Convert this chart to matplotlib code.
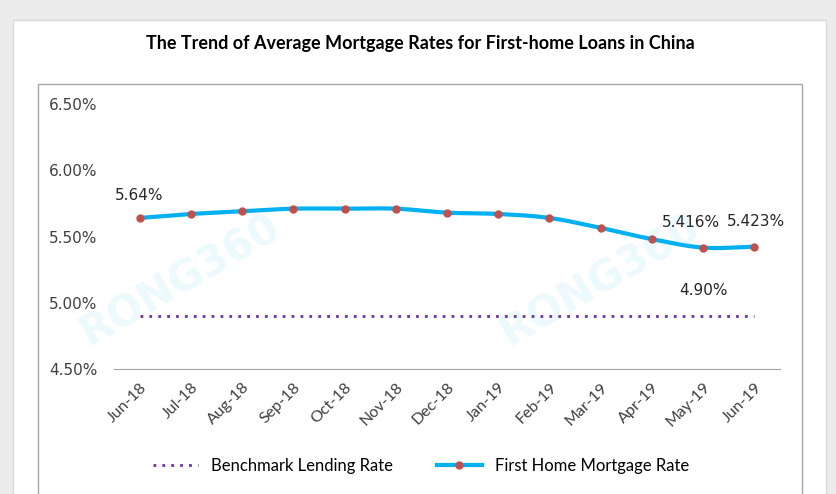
import numpy as np
import matplotlib.pyplot as plt
from matplotlib.patches import Rectangle

months = ["Jun-18", "Jul-18", "Aug-18", "Sep-18", "Oct-18", "Nov-18", "Dec-18",
          "Jan-19", "Feb-19", "Mar-19", "Apr-19", "May-19", "Jun-19"]
first_home = [5.64, 5.67, 5.69, 5.71, 5.71, 5.71, 5.68, 5.67, 5.64, 5.565, 5.48, 5.416, 5.423]
benchmark = [4.90] * 13
yticks = [4.5, 5.0, 5.5, 6.0, 6.5]

narrow = ["Lato", "DejaVu Sans"]

def smooth(x, y, n=20):
    # catmull-rom through the points, like excel's smoothed line
    x = np.asarray(x, float); y = np.asarray(y, float)
    px = np.concatenate([[2 * x[0] - x[1]], x, [2 * x[-1] - x[-2]]])
    py = np.concatenate([[2 * y[0] - y[1]], y, [2 * y[-1] - y[-2]]])
    xs, ys = [], []
    t = np.linspace(0, 1, n)
    for i in range(1, len(px) - 2):
        for p, out in ((px, xs), (py, ys)):
            p0, p1, p2, p3 = p[i - 1], p[i], p[i + 1], p[i + 2]
            out.extend(0.5 * (2 * p1 + (-p0 + p2) * t + (2 * p0 - 5 * p1 + 4 * p2 - p3) * t ** 2
                              + (-p0 + 3 * p1 - 3 * p2 + p3) * t ** 3))
    return np.array(xs), np.array(ys)

fig = plt.figure(figsize=(8.36, 4.94), dpi=100, facecolor="#ececec")
W, H = 836, 494

# background frames
bg = fig.add_axes([0, 0, 1, 1], zorder=-5)
bg.set_xlim(0, W); bg.set_ylim(H, 0); bg.axis("off")
bg.add_patch(Rectangle((13, 20), 813, 480, facecolor="white", edgecolor="#d9d9d9", lw=1))
bg.add_patch(Rectangle((38, 84), 764, 420, facecolor="none", edgecolor="#a6a6a6", lw=1))

fig.text(420 / W, 1 - 44 / H, "The Trend of Average Mortgage Rates for First-home Loans in China",
         ha="center", va="center", fontsize=13, fontweight="bold", family=narrow)

ax = fig.add_axes([114 / W, 1 - 369 / H, 666 / W, 265 / H])
ax.set_facecolor("none")
x = np.arange(len(months))

sx, sy = smooth(x, first_home)
ax.plot(x, benchmark, color="#7030a0", lw=2, linestyle=(0, (1, 2.2)), label="Benchmark Lending Rate")
ax.plot(sx, sy, color="#00b0f0", lw=3, zorder=3)
ax.plot(x, first_home, linestyle="none", marker="o", ms=5, color="#c0504d", zorder=4)
ax.plot([], [], color="#00b0f0", lw=3, marker="o", ms=5, mfc="#c0504d", mec="#c0504d",
        label="First Home Mortgage Rate")

ax.set_xlim(-0.5, 12.5)
ax.set_ylim(4.5, 6.5)
ax.set_yticks(yticks)
ax.set_yticklabels([f"{v:.2f}%" for v in yticks], fontsize=11, color="#404040")
ax.set_xticks(x)
ax.set_xticklabels(months, rotation=45, ha="right", rotation_mode="anchor", fontsize=11.5,
                   color="#404040", family=narrow)
ax.tick_params(length=0, axis="y", pad=12)
ax.tick_params(length=0, axis="x", pad=8)
for s in ["top", "right", "left"]:
    ax.spines[s].set_visible(False)
ax.spines["bottom"].set_color("#a6a6a6")

ax.annotate("5.64%", (0, first_home[0]), xytext=(0, 16), textcoords="offset points",
            ha="center", va="center", fontsize=11, color="#262626")
ax.annotate("5.416%", (11, first_home[11]), xytext=(-9, 18), textcoords="offset points",
            ha="center", va="center", fontsize=11, color="#262626")
ax.annotate("5.423%", (12, first_home[12]), xytext=(1, 18), textcoords="offset points",
            ha="center", va="center", fontsize=11, color="#262626")
ax.annotate("4.90%", (11, benchmark[11]), xytext=(0, 18), textcoords="offset points",
            ha="center", va="center", fontsize=11, color="#262626")

# watermarks
for wx, wy in [(180, 280), (600, 280)]:
    fig.text(wx / W, 1 - wy / H, "RONG360", rotation=30, ha="center", va="center",
             fontsize=30, fontweight="bold", color="#00b0f0", alpha=0.08)

fig.legend(loc="center", bbox_to_anchor=(421 / W, 1 - 466 / H), ncol=2, frameon=False,
           prop={"family": narrow, "size": 12}, handlelength=2.7, columnspacing=2.6)

fig.savefig("out.png", dpi=100, facecolor=fig.get_facecolor())
